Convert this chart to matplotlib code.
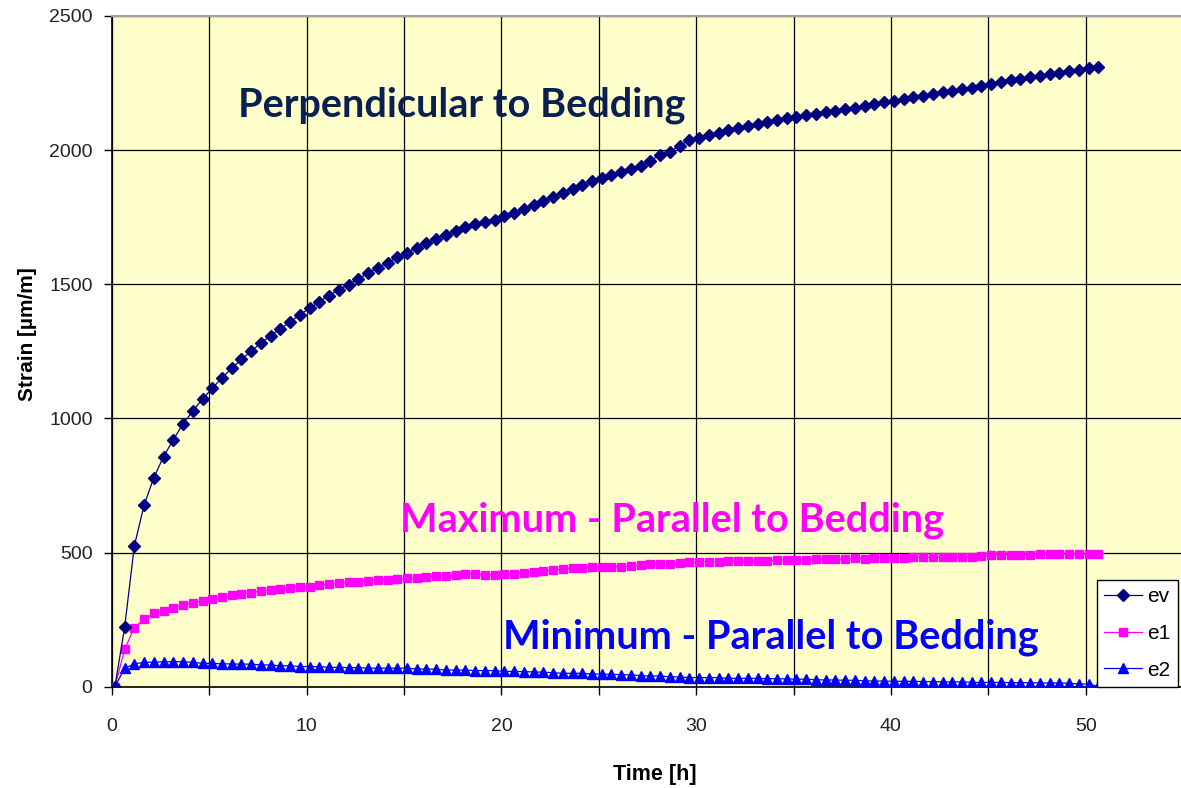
import matplotlib
matplotlib.use("Agg")
import matplotlib.pyplot as plt
import numpy as np

# time axis: readings every half hour
time_h = np.arange(0.15, 50.8, 0.5)

# strain readings [um/m]
ev = [0, 222, 526, 677, 780, 858, 921, 980, 1027, 1073,
      1112, 1152, 1187, 1220, 1251, 1281, 1308, 1335, 1359, 1387,
      1410, 1435, 1458, 1480, 1499, 1520, 1541, 1562, 1580, 1600,
      1618, 1636, 1652, 1669, 1683, 1700, 1714, 1723, 1730, 1741,
      1754, 1764, 1779, 1794, 1809, 1826, 1841, 1855, 1870, 1885,
      1895, 1908, 1919, 1929, 1942, 1960, 1983, 1993, 2016, 2037,
      2046, 2056, 2064, 2073, 2082, 2091, 2098, 2104, 2111, 2118,
      2124, 2130, 2135, 2140, 2146, 2152, 2157, 2163, 2170, 2180,
      2184, 2190, 2196, 2202, 2207, 2215, 2221, 2226, 2232, 2237,
      2245, 2252, 2260, 2264, 2271, 2276, 2282, 2288, 2294, 2299,
      2305, 2310]

e1 = [0, 140, 221, 252, 274, 284, 295, 307, 314, 320,
      327, 335, 341, 348, 351, 358, 362, 365, 370, 374,
      374, 380, 382, 386, 390, 392, 395, 398, 400, 401,
      405, 407, 411, 413, 415, 416, 420, 420, 418, 418,
      420, 422, 425, 428, 432, 436, 438, 442, 444, 446,
      448, 448, 448, 451, 453, 457, 457, 457, 463, 464,
      464, 467, 467, 470, 470, 470, 470, 470, 473, 473,
      473, 473, 476, 476, 476, 476, 479, 478, 479, 479,
      482, 482, 483, 483, 483, 483, 483, 485, 485, 488,
      490, 490, 490, 490, 493, 495, 495, 495, 495, 495,
      495, 495]

e2 = [0, 70, 86, 92, 92, 94, 94, 94, 92, 88,
      88, 86, 86, 85, 85, 82, 82, 79, 79, 76,
      76, 76, 73, 73, 72, 72, 70, 70, 70, 70,
      70, 67, 67, 66, 63, 63, 63, 61, 61, 61,
      58, 58, 57, 56, 55, 53, 51, 51, 51, 48,
      48, 47, 46, 45, 42, 41, 41, 38, 37, 35,
      35, 35, 35, 32, 32, 32, 32, 31, 31, 30,
      29, 29, 27, 26, 26, 25, 25, 23, 22, 22,
      21, 21, 21, 20, 20, 19, 19, 19, 17, 17,
      17, 17, 16, 16, 16, 15, 15, 15, 14, 11,
      11, 2]

fig = plt.figure(figsize=(11.81, 7.88), dpi=100)
ax = fig.add_axes([0.0948, 0.1282, 0.9069, 0.8518])
ax.set_facecolor("#FFFFCC")

ax.plot(time_h, ev, color="#000080", lw=0.9, marker="D", ms=6.3, label="ev", zorder=4)
ax.plot(time_h, e1, color="#FF00FF", lw=0.9, marker="s", ms=5.8, label="e1", zorder=3)
ax.plot(time_h, e2, color="#0000FF", lw=0.9, marker="^", ms=6.5, label="e2", zorder=3)

ax.set_xlim(0, 55)
ax.set_ylim(0, 2500)
ax.set_xticks(np.arange(0, 51, 10))
ax.set_xticks(np.arange(0, 56, 5), minor=True)
ax.set_yticks(np.arange(0, 2501, 500))
ax.grid(True, which="both", color="black", lw=0.9)
ax.set_axisbelow(True)
ax.tick_params(axis="both", which="both", direction="out", length=6, width=1,
               labelsize=14, labelcolor="#222222")
ax.tick_params(axis="x", pad=16)
ax.tick_params(axis="y", pad=8)

for s in ["left", "bottom"]:
    ax.spines[s].set_color("black")
    ax.spines[s].set_linewidth(1.2)
ax.spines["top"].set_color("#A0A0A0")
ax.spines["top"].set_linewidth(1.5)

ax.set_xlabel("Time [h]", fontsize=15.5, fontweight="bold", family="Liberation Sans")
ax.set_ylabel("Strain [µm/m]", fontsize=15, fontweight="bold", family="Liberation Sans")
ax.xaxis.set_label_coords(0.507, -0.115)
ax.yaxis.set_label_coords(-0.07, 0.525)
for lab in ax.get_xticklabels() + ax.get_yticklabels():
    lab.set_family("Liberation Sans")

ax.text(6.47, 2168, "Perpendicular to Bedding", color="#0A2050", fontsize=28.5,
        fontweight="bold", family="Lato", va="center", ha="left")
ax.text(14.78, 622, "Maximum - Parallel to Bedding", color="#FF00FF", fontsize=28.5,
        fontweight="bold", family="Lato", va="center", ha="left")
ax.text(20.07, 186, "Minimum - Parallel to Bedding", color="#0000FF", fontsize=28.5,
        fontweight="bold", family="Lato", va="center", ha="left")

leg = ax.legend(loc="lower left", bbox_to_anchor=(1097 / 1181, 101 / 788),
                bbox_transform=fig.transFigure, fancybox=False, framealpha=1,
                edgecolor="black", prop={"family": "Liberation Sans", "size": 15},
                handlelength=1.8, handletextpad=0.25, borderpad=0.35, labelspacing=0.85,
                borderaxespad=0)
leg.get_frame().set_linewidth(1.0)
leg.set_zorder(10)

fig.savefig("out.png", dpi=100, facecolor="white")
